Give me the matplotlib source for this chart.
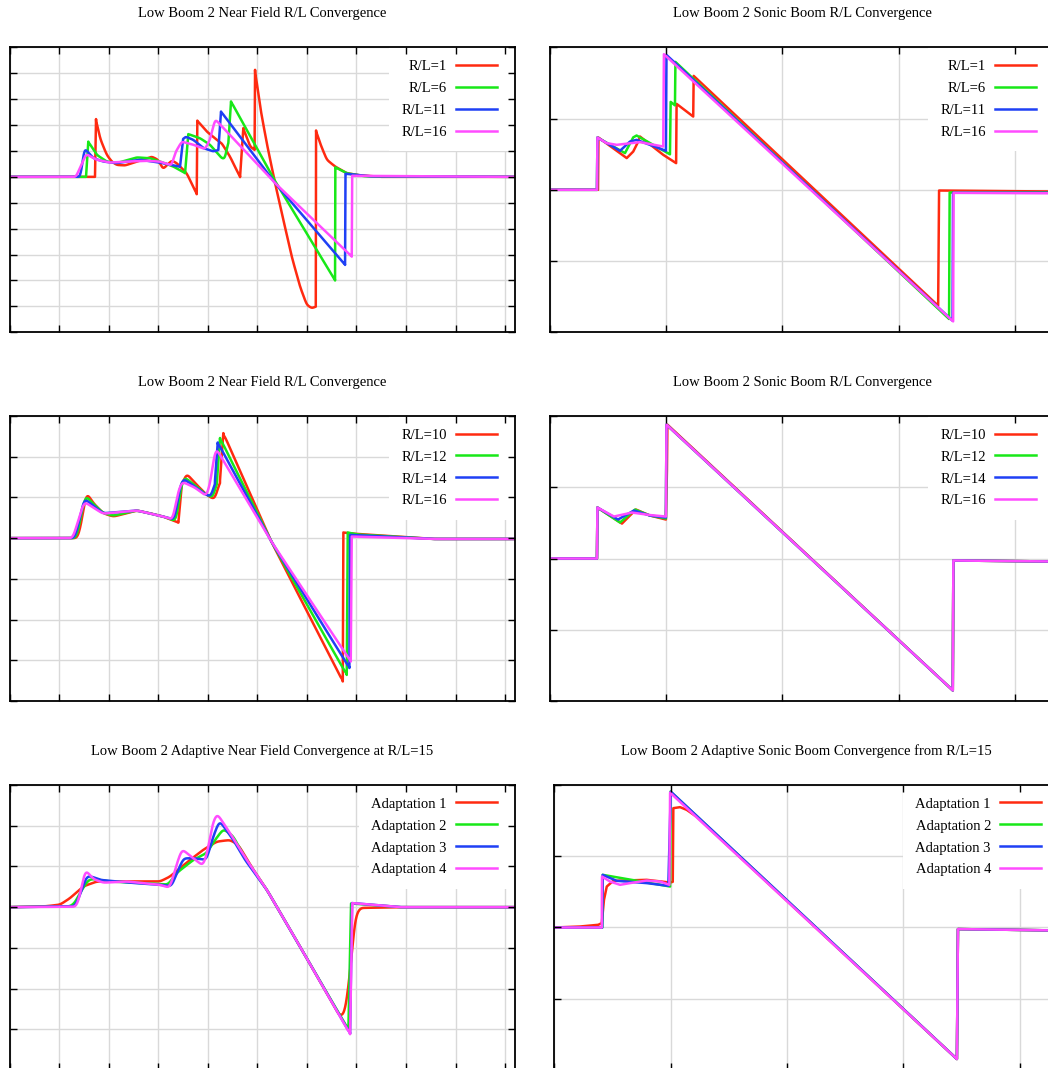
import numpy as np
import matplotlib
matplotlib.use("Agg")
import matplotlib.pyplot as plt

plt.rcParams["font.family"] = ["Liberation Serif", "DejaVu Serif"]

W, H = 1048, 1068
COLORS = ["#ff2a10", "#18e818", "#1f40f5", "#ff4cff"]

# near field signatures, R/L = 1, 6, 11, 16
nf_labels = ["R/L=1", "R/L=6", "R/L=11", "R/L=16"]
nf_x_rl1 = [0, 1.725, 1.746, 1.826, 1.962, 2.063, 2.163, 2.331, 2.870, 2.997, 3.098, 3.273, 3.374, 3.576,
            3.778, 3.790, 3.980, 4.182, 4.282, 4.450, 4.652, 4.718, 4.854, 4.945, 4.955, 5.056, 5.191,
            5.358, 5.526, 5.695, 5.863, 5.998, 6.099, 6.180, 6.186, 6.266, 6.402, 6.569, 6.805, 7.074,
            7.48, 10.2]
nf_y_rl1 = [0, 0, 2.23, 1.49, 0.85, 0.59, 0.46, 0.44, 0.78, 0.66, 0.30, 0.63, 0.53, 0.14, -0.67, 2.17,
            1.75, 1.43, 1.30, 0.78, -0.01, 1.88, 1.17, 1.04, 4.13, 2.71, 1.30, -0.24, -1.66, -3.08, -4.24,
            -4.94, -5.07, -5.01, 1.79, 1.30, 0.66, 0.40, 0.14, 0.06, 0, 0]
nf_x_rl6 = [0, 1.544, 1.590, 1.760, 1.962, 2.163, 2.567, 2.836, 3.037, 3.306, 3.542, 3.608, 3.845, 4.046,
            4.282, 4.349, 4.42, 4.470, 5.324, 6.569, 6.575, 6.805, 7.17, 10.2]
nf_y_rl6 = [0, 0, 1.36, 0.85, 0.59, 0.53, 0.75, 0.72, 0.59, 0.40, 0.14, 1.65, 1.49, 1.24, 0.72, 0.69,
            1.43, 2.91, -0.05, -4.00, 0.37, 0.14, 0.02, 0]
nf_x_rl11 = [0, 1.433, 1.510, 1.691, 1.893, 2.163, 2.634, 3.037, 3.407, 3.441, 3.50, 3.542, 3.709, 3.911,
             4.113, 4.214, 4.268, 5.358, 6.771, 6.78, 7.276, 10.2]
nf_y_rl11 = [0, 0, 1.11, 0.72, 0.59, 0.53, 0.66, 0.55, 0.40, 0.39, 1.43, 1.56, 1.43, 1.11, 0.98, 1.04,
             2.52, -0.24, -3.40, 0.12, 0.02, 0]
nf_x_rl16 = [0, 1.342, 1.544, 1.760, 2.028, 2.365, 2.769, 3.037, 3.273, 3.340, 3.475, 3.709, 3.945, 4.046,
             4.147, 5.358, 6.906, 6.915, 10.2]
nf_y_rl16 = [0, 0, 0.88, 0.66, 0.55, 0.59, 0.62, 0.59, 0.44, 0.92, 1.36, 1.24, 1.07, 1.43, 2.23, -0.24,
             -3.08, 0.04, 0]

# ground signatures, R/L = 1, 6, 11, 16
sb_labels = ["R/L=1", "R/L=6", "R/L=11", "R/L=16"]
sb_x_rl1 = [0, 0.413, 0.417, 0.660, 0.716, 0.759, 0.774, 0.974, 1.085, 1.089, 1.232, 1.236, 3.339, 3.347, 4.34]
sb_y_rl1 = [0, 0, 0.733, 0.445, 0.537, 0.677, 0.748, 0.491, 0.374, 1.206, 1.028, 1.599, -1.627, -0.010, -0.024]
sb_x_rl6 = [0, 0.404, 0.408, 0.645, 0.716, 0.745, 1.032, 1.038, 1.075, 1.079, 3.433, 3.438, 4.34]
sb_y_rl6 = [0, 0, 0.733, 0.515, 0.736, 0.762, 0.498, 1.234, 1.185, 1.795, -1.813, -0.038, -0.038]
sb_x_rl11 = [0, 0.404, 0.408, 0.602, 0.688, 0.745, 0.997, 1.002, 3.463, 3.467, 4.34]
sb_y_rl11 = [0, 0, 0.733, 0.547, 0.677, 0.701, 0.547, 1.893, -1.837, -0.042, -0.042]
sb_x_rl16 = [0, 0.404, 0.408, 0.488, 0.574, 0.774, 0.974, 0.980, 3.468, 3.472, 4.34]
sb_y_rl16 = [0, 0, 0.733, 0.655, 0.631, 0.669, 0.607, 1.903, -1.847, -0.042, -0.049]

# near field signatures, R/L = 10, 12, 14, 16
nf2_labels = ["R/L=10", "R/L=12", "R/L=14", "R/L=16"]
nf2_x_rl10 = [0, 1.382, 1.463, 1.544, 1.691, 1.893, 2.095, 2.297, 2.567, 2.836, 3.104, 3.407, 3.475, 3.562,
              3.778, 3.980, 4.147, 4.248, 4.315, 5.277, 6.725, 6.737, 6.938, 8.547, 10.2]
nf2_y_rl10 = [0, 0, 0.45, 1.14, 0.86, 0.61, 0.53, 0.59, 0.68, 0.61, 0.53, 0.38, 1.27, 1.60, 1.31, 1.06,
              0.94, 1.43, 2.58, -0.07, -3.52, 0.14, 0.11, -0.02, -0.02]
nf2_x_rl12 = [0, 1.352, 1.430, 1.524, 1.665, 1.887, 2.089, 2.567, 3.104, 3.374, 3.441, 3.522, 3.744, 3.945,
              4.113, 4.188, 4.248, 5.277, 6.805, 6.825, 7.01, 8.547, 10.2]
nf2_y_rl12 = [0, 0, 0.45, 1.06, 0.87, 0.62, 0.55, 0.68, 0.53, 0.41, 1.19, 1.51, 1.29, 1.09, 0.98, 1.43,
              2.46, -0.07, -3.36, 0.14, 0.09, -0.02, -0.02]
nf2_x_rl14 = [0, 1.322, 1.41, 1.504, 1.665, 1.887, 2.567, 3.104, 3.340, 3.421, 3.495, 3.744, 3.945, 4.081,
              4.147, 4.202, 5.277, 6.858, 6.872, 8.547, 10.2]
nf2_y_rl14 = [0, 0, 0.45, 0.98, 0.82, 0.61, 0.68, 0.53, 0.45, 1.19, 1.47, 1.26, 1.08, 1.01, 1.43, 2.35,
              -0.07, -3.19, 0.08, -0.02, -0.02]
nf2_x_rl16 = [0, 1.282, 1.39, 1.504, 1.665, 1.887, 2.567, 3.104, 3.306, 3.380, 3.475, 3.744, 3.980, 4.067,
              4.147, 5.277, 6.886, 6.906, 8.547, 10.2]
nf2_y_rl16 = [0, 0, 0.45, 0.90, 0.77, 0.60, 0.68, 0.53, 0.45, 1.06, 1.39, 1.24, 1.02, 1.43, 2.25, -0.07,
              -3.03, 0.04, -0.02, -0.02]

# ground signatures, R/L = 10, 12, 14, 16
sb2_labels = ["R/L=10", "R/L=12", "R/L=14", "R/L=16"]
sb2_x_rl10 = [0, 0.404, 0.408, 0.619, 0.739, 0.860, 0.997, 1.006, 1.010, 3.465, 3.470, 4.34]
sb2_y_rl10 = [0, 0, 0.715, 0.49, 0.687, 0.603, 0.547, 1.234, 1.879, -1.851, -0.028, -0.042]
sb2_x_rl12 = [0, 0.404, 0.408, 0.602, 0.731, 0.860, 0.997, 1.002, 3.465, 3.470, 4.34]
sb2_y_rl12 = [0, 0, 0.715, 0.505, 0.687, 0.603, 0.561, 1.879, -1.851, -0.028, -0.042]
sb2_x_rl14 = [0, 0.404, 0.408, 0.585, 0.722, 0.860, 0.997, 1.002, 3.465, 3.470, 4.34]
sb2_y_rl14 = [0, 0, 0.715, 0.547, 0.673, 0.603, 0.575, 1.879, -1.851, -0.028, -0.042]
sb2_x_rl16 = [0, 0.404, 0.408, 0.550, 0.705, 0.860, 0.997, 1.002, 3.465, 3.470, 4.34]
sb2_y_rl16 = [0, 0, 0.715, 0.589, 0.645, 0.610, 0.589, 1.879, -1.851, -0.028, -0.042]

# adaptive near field at R/L=15
ad_labels = ["Adaptation 1", "Adaptation 2", "Adaptation 3", "Adaptation 4"]
ad_x_1 = [0, 0.716, 1.019, 1.221, 1.489, 1.760, 2.163, 3.037, 3.239, 3.441, 3.643, 3.911, 4.182, 4.450,
          4.618, 4.920, 5.191, 5.863, 6.670, 6.771, 6.872, 6.973, 7.074, 7.88, 10.2]
ad_y_1 = [0, 0.02, 0.06, 0.22, 0.51, 0.63, 0.63, 0.63, 0.75, 0.96, 1.16, 1.41, 1.61, 1.65, 1.53, 0.92,
          0.43, -0.97, -2.69, -2.60, -1.62, -0.23, -0.02, 0, 0]
ad_x_2 = [0, 1.231, 1.322, 1.423, 1.590, 1.691, 2.028, 3.037, 3.198, 3.374, 3.709, 3.980, 4.147, 4.315,
          4.51, 4.753, 5.191, 5.863, 6.838, 6.892, 7.88, 10.2]
ad_y_2 = [0, 0.02, 0.11, 0.35, 0.67, 0.69, 0.63, 0.57, 0.55, 0.84, 1.16, 1.33, 1.65, 1.92, 1.75, 1.21,
          0.43, -0.97, -3.01, 0.09, 0, 0]
ad_x_3 = [0, 1.322, 1.423, 1.558, 1.685, 1.826, 2.432, 3.037, 3.273, 3.360, 3.508, 3.709, 3.980, 4.087,
          4.234, 4.517, 4.753, 5.191, 5.863, 6.872, 6.912, 7.88, 10.2]
ad_y_3 = [0, 0.02, 0.30, 0.77, 0.74, 0.67, 0.60, 0.55, 0.51, 0.79, 1.20, 1.20, 1.16, 1.65, 2.13, 1.65,
          1.16, 0.43, -0.97, -3.11, 0.10, 0, 0]
ad_x_4 = [0, 1.356, 1.423, 1.524, 1.691, 1.893, 2.365, 3.037, 3.239, 3.340, 3.475, 3.709, 3.911, 4.006,
          4.087, 4.182, 4.450, 4.787, 5.191, 5.863, 6.872, 6.918, 7.88, 10.2]
ad_y_4 = [0, 0.01, 0.30, 0.93, 0.69, 0.60, 0.63, 0.55, 0.47, 0.92, 1.43, 1.20, 1.01, 1.41, 2.02, 2.31,
          1.82, 1.16, 0.43, -0.97, -3.12, 0.10, 0, 0]

# adaptive ground signatures from R/L=15
as_labels = ["Adaptation 1", "Adaptation 2", "Adaptation 3", "Adaptation 4"]
as_x_1 = [0, 0.221, 0.378, 0.408, 0.427, 0.451, 0.507, 0.794, 0.995, 1.018, 1.023, 1.081, 1.138, 1.224,
          3.460, 3.469, 4.34]
as_y_1 = [0, 0.014, 0.038, 0.062, 0.388, 0.575, 0.655, 0.669, 0.631, 0.641, 1.675, 1.689, 1.651, 1.553,
          -1.846, -0.022, -0.042]
as_x_2 = [0, 0.412, 0.416, 0.995, 0.999, 3.460, 3.469, 4.34]
as_y_2 = [0, 0, 0.739, 0.575, 1.907, -1.846, -0.022, -0.042]
as_x_3 = [0, 0.412, 0.416, 0.537, 0.794, 0.980, 1.001, 3.460, 3.469, 4.34]
as_y_3 = [0, 0, 0.739, 0.655, 0.623, 0.585, 1.907, -1.846, -0.022, -0.042]
as_x_4 = [0, 0.408, 0.410, 0.479, 0.565, 0.651, 0.794, 0.909, 0.989, 0.995, 3.460, 3.469, 4.34]
as_y_4 = [0, 0, 0.715, 0.645, 0.599, 0.623, 0.659, 0.645, 0.599, 1.893, -1.846, -0.022, -0.042]


def smooth(x, y, sigma, step=0.004):
    """Round off the corners of a traced signature, keeping shocks as vertical jumps."""
    x = np.asarray(x, float)
    y = np.asarray(y, float)
    if sigma <= 0:
        return x, y
    dx, dy = np.diff(x), np.abs(np.diff(y))
    cuts = list(np.where((dx < 0.07) & (dy > 0.8))[0])
    xs_out, ys_out = [], []
    start = 0
    for c in cuts + [len(x) - 1]:
        px, py = x[start:c + 1], y[start:c + 1]
        start = c + 1
        if len(px) < 2:
            xs_out.append(px)
            ys_out.append(py)
            continue
        fx = np.arange(px[0], px[-1], step)
        fx = np.append(fx, px[-1])
        fy = np.interp(fx, px, py)
        n = int(np.ceil(3 * sigma / step))
        k = np.exp(-0.5 * (np.arange(-n, n + 1) * step / sigma) ** 2)
        k /= k.sum()
        padded = np.concatenate([np.full(n, fy[0]), fy, np.full(n, fy[-1])])
        sy = np.convolve(padded, k, mode="valid")
        sy[0], sy[-1] = fy[0], fy[-1]
        xs_out.append(fx)
        ys_out.append(sy)
    return np.concatenate(xs_out), np.concatenate(ys_out)


fig = plt.figure(figsize=(W / 100, H / 100), dpi=100)


def panel(left, right, top, bottom, xmax, ylim, title, title_y, series, labels, sigma=0.0):
    rect = [left / W, 1 - bottom / H, (right - left) / W, (bottom - top) / H]
    ax = fig.add_axes(rect)
    ax.set_xlim(0, xmax)
    ax.set_ylim(*ylim)
    ax.set_xticks(np.arange(0, xmax, 1))
    ax.set_yticks(np.arange(ylim[0], ylim[1] + 1, 1))
    ax.set_axisbelow(True)
    ax.grid(True, color="#d9d9d9", lw=1.0)
    ax.tick_params(length=0, labelbottom=False, labelleft=False)
    for s in ax.spines.values():
        s.set_visible(False)

    for (x, y), lab, c in zip(series, labels, COLORS):
        sx, sy = smooth(x, y, sigma)
        ax.plot(sx, sy, color=c, lw=1.8, label=lab)

    ax.legend(loc="upper right", bbox_to_anchor=(0.988, 1.0), markerfirst=False,
              frameon=True, fancybox=False, framealpha=1, edgecolor="none",
              facecolor="white", fontsize=10.5, handlelength=2.8, handletextpad=0.62,
              labelspacing=0.60, borderpad=0.85, borderaxespad=0)

    # frame and inward ticks on top of the key box
    ov = fig.add_axes(rect, sharex=ax, sharey=ax, label=title + "_frame")
    ov.set_zorder(ax.get_zorder() + 1)
    ov.patch.set_visible(False)
    ov.tick_params(direction="in", length=5, width=1.0, top=True, right=True,
                   labelbottom=False, labelleft=False)
    for s in ov.spines.values():
        s.set_linewidth(1.3)
        s.set_color("black")

    fig.text((left + right) / 2 / W, 1 - title_y / H, title, ha="center", va="center",
             fontsize=10.5)
    return ax


panel(9.5, 515, 47.3, 332.3, 10.2, (-6, 5), "Low Boom 2 Near Field R/L Convergence", 13.5,
      [(nf_x_rl1, nf_y_rl1), (nf_x_rl6, nf_y_rl6), (nf_x_rl11, nf_y_rl11), (nf_x_rl16, nf_y_rl16)],
      nf_labels, sigma=0.025)
panel(550, 1054.5, 47.3, 332.3, 4.34, (-2, 2), "Low Boom 2 Sonic Boom R/L Convergence", 13.5,
      [(sb_x_rl1, sb_y_rl1), (sb_x_rl6, sb_y_rl6), (sb_x_rl11, sb_y_rl11), (sb_x_rl16, sb_y_rl16)],
      sb_labels)
panel(9.5, 515, 416, 701, 10.2, (-4, 3), "Low Boom 2 Near Field R/L Convergence", 382.3,
      [(nf2_x_rl10, nf2_y_rl10), (nf2_x_rl12, nf2_y_rl12), (nf2_x_rl14, nf2_y_rl14),
       (nf2_x_rl16, nf2_y_rl16)],
      nf2_labels, sigma=0.04)
panel(550, 1054.5, 416, 701, 4.34, (-2, 2), "Low Boom 2 Sonic Boom R/L Convergence", 382.3,
      [(sb2_x_rl10, sb2_y_rl10), (sb2_x_rl12, sb2_y_rl12), (sb2_x_rl14, sb2_y_rl14),
       (sb2_x_rl16, sb2_y_rl16)],
      sb2_labels)
panel(9.5, 515, 785, 1070, 10.2, (-4, 3), "Low Boom 2 Adaptive Near Field Convergence at R/L=15", 751,
      [(ad_x_1, ad_y_1), (ad_x_2, ad_y_2), (ad_x_3, ad_y_3), (ad_x_4, ad_y_4)],
      ad_labels, sigma=0.04)
panel(554.3, 1059.3, 785, 1070, 4.34, (-2, 2), "Low Boom 2 Adaptive Sonic Boom Convergence from R/L=15", 751,
      [(as_x_1, as_y_1), (as_x_2, as_y_2), (as_x_3, as_y_3), (as_x_4, as_y_4)],
      as_labels)

fig.savefig("out.png", dpi=100)
